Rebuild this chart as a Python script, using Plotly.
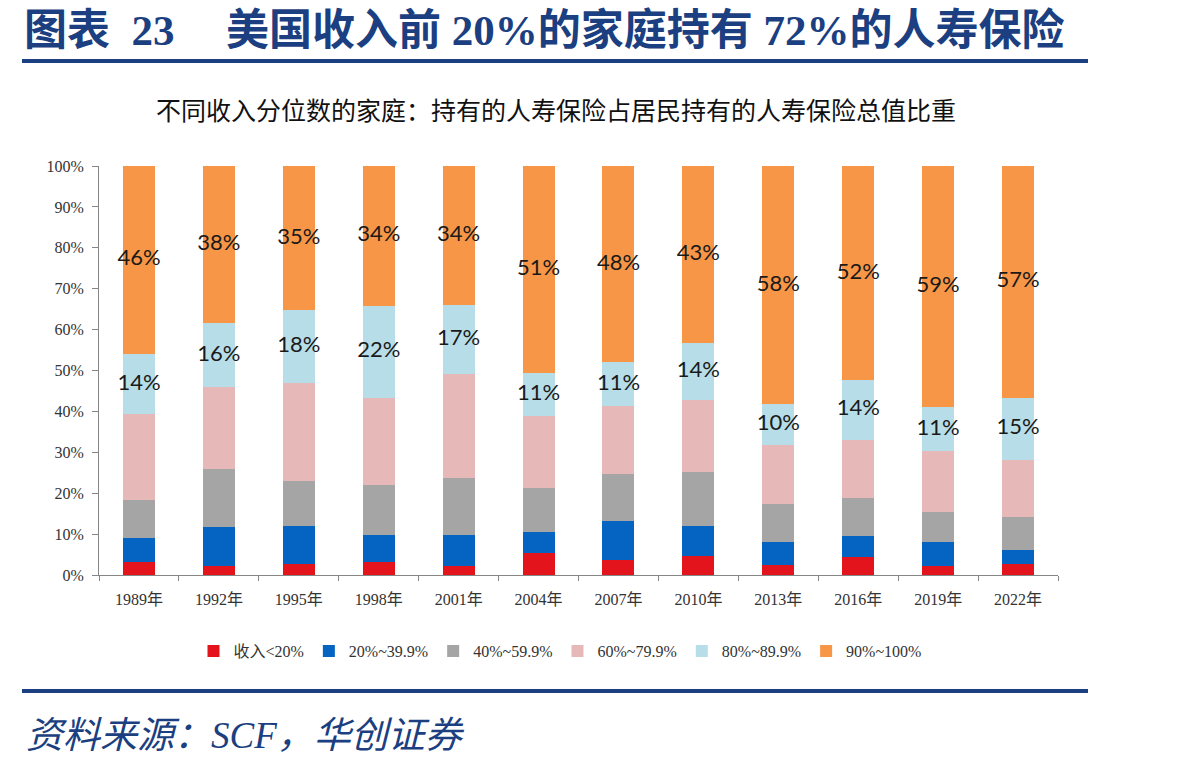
import plotly.graph_objects as go

years = ["1989年", "1992年", "1995年", "1998年", "2001年", "2004年",
         "2007年", "2010年", "2013年", "2016年", "2019年", "2022年"]

series_names = ["收入<20%", "20%~39.9%", "40%~59.9%", "60%~79.9%", "80%~89.9%", "90%~100%"]

q_lt20 = [3.3, 2.3, 2.7, 3.1, 2.3, 5.4, 3.7, 4.6, 2.5, 4.4, 2.3, 2.6]
q_20_40 = [5.8, 9.4, 9.2, 6.8, 7.6, 5.2, 9.5, 7.3, 5.5, 5.1, 5.7, 3.4]
q_40_60 = [9.3, 14.3, 11.2, 12.1, 13.8, 10.6, 11.5, 13.4, 9.4, 9.4, 7.3, 8.3]
q_60_80 = [20.9, 19.9, 23.8, 21.3, 25.5, 17.7, 16.7, 17.5, 14.4, 14.2, 14.9, 13.8]
q_80_90 = [14.8, 15.7, 17.8, 22.5, 16.9, 10.5, 10.6, 13.9, 9.9, 14.5, 10.8, 15.2]
q_90_100 = [45.9, 38.4, 35.3, 34.2, 33.9, 50.6, 48.0, 43.3, 58.3, 52.4, 59.0, 56.7]

lb_labels = ["14%", "16%", "18%", "22%", "17%", "11%", "11%", "14%", "10%", "14%", "11%", "15%"]
or_labels = ["46%", "38%", "35%", "34%", "34%", "51%", "48%", "43%", "58%", "52%", "59%", "57%"]

colors = ["#E3141C", "#0563C1", "#A5A5A5", "#E6B8B7", "#B7DEE8", "#F79646"]

series = [q_lt20, q_20_40, q_40_60, q_60_80, q_80_90, q_90_100]

# plot area geometry (pixels)
L, R, T, B = 99, 1058, 166, 575
W, H = 1198, 767
def px_x(p):
    return (p - L) / (R - L)
def px_y(p):
    return (B - p) / (B - T)

fig = go.Figure()
for name, vals, col in zip(series_names, series, colors):
    fig.add_trace(go.Bar(x=years, y=vals, name=name, marker_color=col,
                         marker_line_width=0))

# labels centered in the 80-90 and 90-100 segments
base_lb = [a + b + c + d for a, b, c, d in zip(q_lt20, q_20_40, q_40_60, q_60_80)]
mid_lb = [b + v / 2 for b, v in zip(base_lb, q_80_90)]
mid_or = [b + l + v / 2 for b, l, v in zip(base_lb, q_80_90, q_90_100)]
fig.add_trace(go.Scatter(x=years + years, y=mid_lb + mid_or, text=lb_labels + or_labels,
                         mode="text", showlegend=False, hoverinfo="skip",
                         textfont=dict(family="Lato", size=22, color="#1a1a1a")))

serif = "Liberation Serif, Noto Sans CJK SC"
navy = "#1B3F80"

fig.update_layout(
    width=W, height=H,
    margin=dict(l=L, r=W - R, t=T, b=H - B),
    barmode="stack", bargap=0.6,
    plot_bgcolor="white", paper_bgcolor="white",
    font=dict(family=serif, color="#333333", size=16),
    showlegend=True,
    legend=dict(orientation="h", x=px_x(560), xanchor="center",
                y=px_y(651), yanchor="middle",
                font=dict(family=serif, size=16, color="#333333"),
                itemwidth=30, traceorder="normal"),
    xaxis=dict(type="category", range=[-0.5, len(years) - 0.5],
               showline=True, linecolor="#868686", linewidth=1,
               ticks="outside", tickson="boundaries", ticklen=5, tickcolor="#868686",
               tickfont=dict(family=serif, size=16, color="#333333"),
               ticklabelstandoff=10,
               showgrid=False, zeroline=False),
    yaxis=dict(range=[0, 100], dtick=10, ticksuffix="%", showline=True,
               linecolor="#868686", linewidth=1, ticks="outside", ticklen=6,
               tickcolor="#868686", showgrid=False, zeroline=False,
               ticklabelstandoff=5,
               tickfont=dict(family=serif, size=16, color="#333333")),
)

fig.add_annotation(text="<b>图表\u200223\u3000\u2009美国收入前 20%的家庭持有 72%的人寿保险</b>",
                   xref="paper", yref="paper", x=px_x(22), y=px_y(30),
                   xanchor="left", yanchor="middle", showarrow=False,
                   font=dict(family=serif, size=43, color=navy))
fig.add_annotation(text="不同收入分位数的家庭：持有的人寿保险占居民持有的人寿保险总值比重",
                   xref="paper", yref="paper", x=px_x(556), y=px_y(112),
                   xanchor="center", yanchor="middle", showarrow=False,
                   font=dict(family=serif, size=25, color="#111111"))
fig.add_annotation(text="<i>资料来源：SCF，华创证券</i>",
                   xref="paper", yref="paper", x=px_x(24), y=px_y(735),
                   xanchor="left", yanchor="middle", showarrow=False,
                   font=dict(family=serif, size=37, color=navy))

for yy in (61, 691):
    fig.add_shape(type="line", xref="paper", yref="paper",
                  x0=px_x(22), x1=px_x(1088), y0=px_y(yy), y1=px_y(yy),
                  line=dict(color=navy, width=4))

fig.write_html("out.html")
